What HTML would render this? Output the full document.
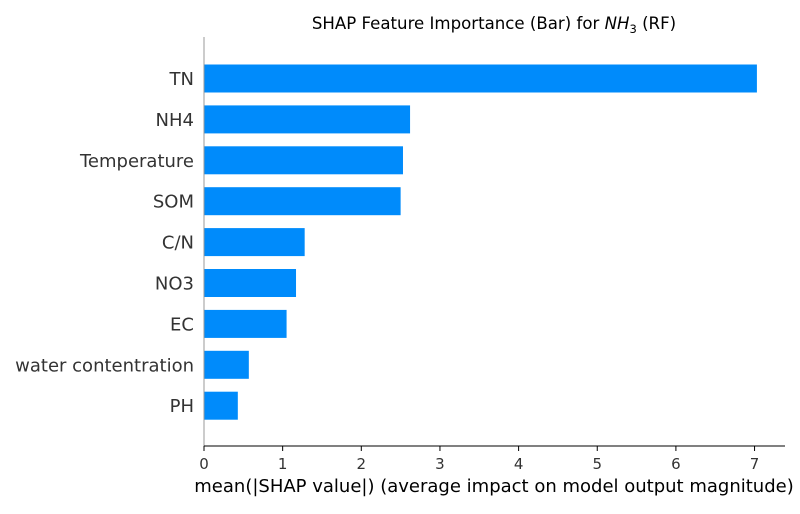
<!DOCTYPE html>
<html><head><meta charset="utf-8"><style>
body{margin:0;background:#fff;}
svg text{font-family:"DejaVu Sans","Liberation Sans",sans-serif;}
</style></head><body>
<svg width="800" height="509" xmlns="http://www.w3.org/2000/svg">
<g id="plot"></g>
</svg>
<script>
const categories=["TN","NH4","Temperature","SOM","C/N","NO3","EC","water contentration","PH"];
const values=[7.03,2.62,2.53,2.50,1.28,1.17,1.05,0.57,0.43];
const tickLabels=["0","1","2","3","4","5","6","7"];
const NS="http://www.w3.org/2000/svg";
const g=document.getElementById('plot');
const x0=204, pxPer=78.65, y0=78.5, pitch=40.9, bh=28, axisY=446;
const xs=v=>x0+v*pxPer;
const ys=i=>y0+i*pitch;
function mk(t,a,txt){const e=document.createElementNS(NS,t);for(const k in a)e.setAttribute(k,a[k]);if(txt!==undefined)e.textContent=txt;g.appendChild(e);return e;}
categories.forEach((c,i)=>{
 const r=mk('rect',{x:x0,y:ys(i)-bh/2,width:xs(values[i])-x0,height:bh,fill:'#008bfb'});
 
 
 const t=mk('text',{x:194,y:ys(i)+6.5,'text-anchor':'end','font-size':'18',fill:'#333'},c);
 
 
});
const sp=mk('line',{x1:x0,y1:37,x2:x0,y2:axisY,stroke:'#999','stroke-width':1});


const ax=mk('line',{x1:x0,y1:axisY,x2:785,y2:axisY,stroke:'#000','stroke-width':1});


tickLabels.forEach((l,i)=>{
 const tk=mk('line',{x1:xs(+l),y1:axisY,x2:xs(+l),y2:axisY+5,stroke:'#000'});
 
 
 const t=mk('text',{x:xs(+l),y:469,'text-anchor':'middle','font-size':'15',fill:'#333'},l);
 
 
});
const xt=mk('text',{x:494,y:492,'text-anchor':'middle','font-size':'18',fill:'#000'},'mean(|SHAP value|) (average impact on model output magnitude)');


const title=mk('text',{x:494,y:29,'text-anchor':'middle','font-size':'16.6',fill:'#000'});


title.innerHTML='SHAP Feature Importance (Bar) for <tspan font-style="italic">NH</tspan><tspan font-size="11.5" dy="4">3</tspan><tspan dy="-4"> (RF)</tspan>';
</script>
</body></html>
